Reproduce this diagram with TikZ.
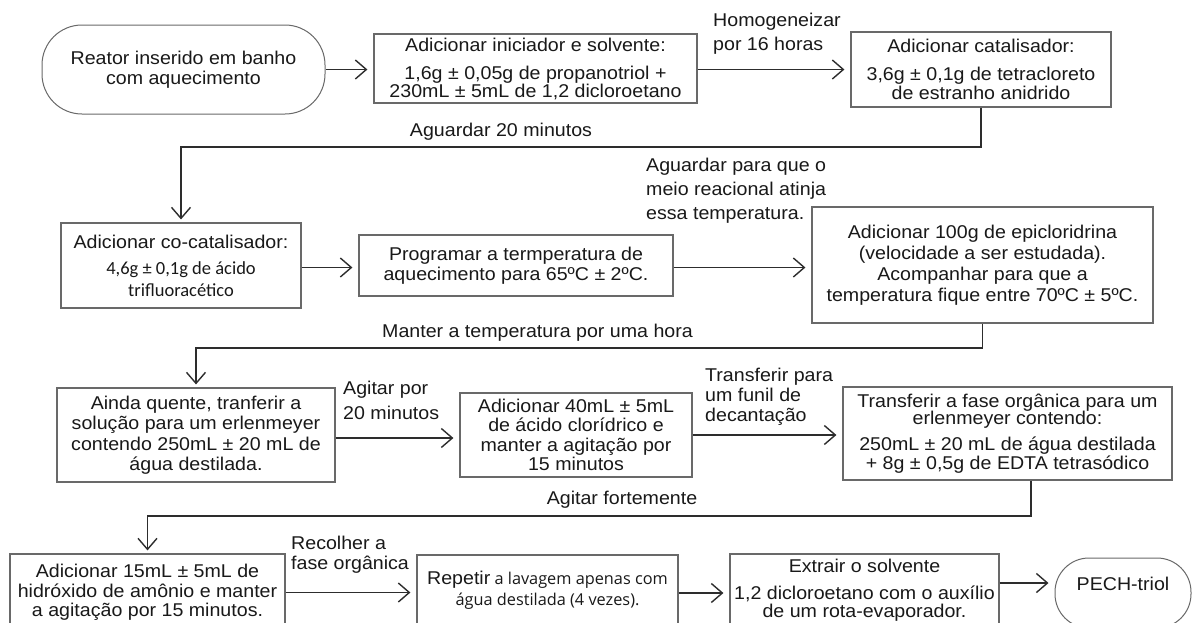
\documentclass[tikz,border=0pt]{standalone}
\usepackage{fontspec}
\setmainfont{Liberation Sans}[FakeStretch=1.06]
\newfontfamily\calib{Carlito}
\newfontfamily\opsans{Open Sans}
\usetikzlibrary{arrows.meta,calc}
\definecolor{boxgray}{RGB}{105,105,105}
\definecolor{linecol}{RGB}{45,45,45}
\definecolor{txt}{RGB}{25,25,25}
\begin{document}
\begin{tikzpicture}[x=1pt,y=-1pt,
  font=\fontsize{18.5}{19.5}\selectfont,
  box/.style={draw=boxgray, line width=1.2pt, align=center, inner sep=0pt, text=txt},
  term/.style={draw=boxgray, line width=1pt, align=center, inner sep=0pt, text=txt},
  lbl/.style={inner sep=0pt, text=txt},
  arr/.style={draw=linecol, line width=1.4pt, -{Straight Barb[length=11pt,width=19pt,line width=1.4pt]}, shorten >=6pt},
  conn/.style={draw=linecol, line width=1.8pt, -{Straight Barb[length=11pt,width=19pt,line width=1.4pt]}, shorten >=3pt}
]
\useasboundingbox (0,0) rectangle (1192,622);
\fill[white] (0,0) rectangle (1192,622);
\clip (0,0) rectangle (1192,622);

% row 1
\node[term, rounded corners=40pt, minimum width=283pt, minimum height=89pt] (start) at (183.5,69.5)
  {Reator inserido em banho\\com aquecimento};
\node[box, minimum width=323pt, minimum height=69pt] (A) at (535.5,68.5)
  {Adicionar iniciador e solvente:\\[8.5pt]1,6g ± 0,05g de propanotriol +\\[-1.5pt]230mL ± 5mL de 1,2 dicloroetano};
\node[box, minimum width=260pt, minimum height=75pt] (B) at (981,69.5)
  {Adicionar catalisador:\\[8.5pt]3,6g ± 0,1g de tetracloreto\\de estranho anidrido};

% row 2
\node[box, minimum width=240pt, minimum height=85pt] (cocat) at (181,265.5)
  {Adicionar co-catalisador:\\[7pt]{\calib\fontsize{18.5}{19.5}\selectfont 4,6g ± 0,1g de ácido}\\[2pt]{\calib\fontsize{18.5}{19.5}\selectfont trifluoracético}};
\node[box, minimum width=314pt, minimum height=61pt] (prog) at (516,265.5)
  {Programar a termperatura de\\aquecimento para 65ºC ± 2ºC.};
\node[box, minimum width=341pt, minimum height=116pt] (epi) at (982.5,265)
  {Adicionar 100g de epicloridrina\\[1.5pt](velocidade a ser estudada).\\[1.5pt]Acompanhar para que a\\[1.5pt]temperatura fique entre 70ºC ± 5ºC.};

% row 3
\node[box, minimum width=278pt, minimum height=94pt] (ainda) at (196,435)
  {Ainda quente, tranferir a\\[1pt]solução para um erlenmeyer\\[1pt]contendo 250mL ± 20 mL de\\[1pt]água destilada.};
\node[box, minimum width=232pt, minimum height=84pt] (hcl) at (576,435)
  {Adicionar 40mL ± 5mL\\de ácido clorídrico e\\manter a agitação por\\15 minutos};
\node[box, minimum width=329pt, minimum height=93pt] (transf) at (1007.5,433.5)
  {Transferir a fase orgânica para um\\[-2pt]erlenmeyer contendo:\\[6pt]250mL ± 20 mL de água destilada\\+ 8g ± 0,5g de EDTA tetrasódico};

% row 4
\node[box, minimum width=275pt, minimum height=77pt] (amon) at (147.5,592.5)
  {Adicionar 15mL ± 5mL de\\hidróxido de amônio e manter\\a agitação por 15 minutos.};
\node[box, minimum width=261pt, minimum height=70pt] (rep) at (547.5,590)
  {Repetir{\opsans\fontsize{16.3}{19.5}\selectfont{} a lavagem apenas com}\\[1pt]{\opsans\fontsize{16.3}{19.5}\selectfont água destilada (4 vezes).}};
\node[box, minimum width=269pt, minimum height=73pt] (ext) at (864.5,590.5)
  {Extrair o solvente\\[7.5pt]1,2 dicloroetano com o auxílio\\[-1.5pt]de um rota-evaporador.};
\node[term, rounded corners=34pt, minimum width=136pt, minimum height=70pt, text height=14pt, text depth=20pt] (pech) at (1123,593)
  {PECH-triol};

% labels
\node[lbl, anchor=west, align=left, font=\fontsize{18.5}{24}\selectfont] (lh) at (713,34)
  {Homogeneizar\\por 16 horas};
\node[lbl] (l20) at (501,132) {Aguardar 20 minutos};
\node[lbl, anchor=west, align=left, font=\fontsize{18.5}{24}\selectfont] (lag) at (646,191)
  {Aguardar para que o\\meio reacional atinja\\essa temperatura.};
\node[lbl] (lman) at (537.5,333) {Manter a temperatura por uma hora};
\node[lbl, anchor=west, align=left, font=\fontsize{18.5}{25}\selectfont] (lagi) at (343,400)
  {Agitar por\\20 minutos};
\node[lbl, anchor=west, align=left, font=\fontsize{18.5}{20}\selectfont] (ltr) at (705,397)
  {Transferir para\\um funil de\\decantação};
\node[lbl] (lfor) at (622,500) {Agitar fortemente};
\node[lbl, anchor=west, align=left, font=\fontsize{18.5}{20}\selectfont] (lrec) at (291,555)
  {Recolher a\\fase orgânica};

% helper coordinates
\coordinate (h1) at (0,147);
\coordinate (h2) at (0,348);
\coordinate (h3) at (0,516);
\coordinate (t3) at ([xshift=23.5pt]transf.south);

% straight arrows
\draw[arr] (start.east) -- (start.east -| A.west);
\draw[arr] ([yshift=-1pt]A.east) -- ([yshift=-1pt]A.east -| B.west);
\draw[arr] ([yshift=-2pt]cocat.east) -- ([yshift=-2pt]cocat.east -| prog.west);
\draw[arr] ([yshift=-2pt]prog.east) -- ([yshift=-2pt]prog.east -| epi.west);
\draw[arr] ([yshift=-3pt]ainda.east) -- ([yshift=-3pt]ainda.east -| hcl.west);
\draw[arr] (hcl.east) -- (hcl.east -| transf.west);
\draw[arr] (amon.east) -- (amon.east -| rep.west);
\draw[arr] ([yshift=-3pt]rep.east) -- ([yshift=-3pt]rep.east -| ext.west);
\draw[arr] ([yshift=7.5pt]ext.east) -- ([yshift=7.5pt]ext.east -| pech.west);

% elbow connectors
\draw[conn] (B.south) -- (B.south |- h1) -| (cocat.north);
\draw[conn] (epi.south) -- (epi.south |- h2) -| (ainda.north);
\draw[conn] (t3) -- (t3 |- h3) -| (amon.north);
\end{tikzpicture}
\end{document}
